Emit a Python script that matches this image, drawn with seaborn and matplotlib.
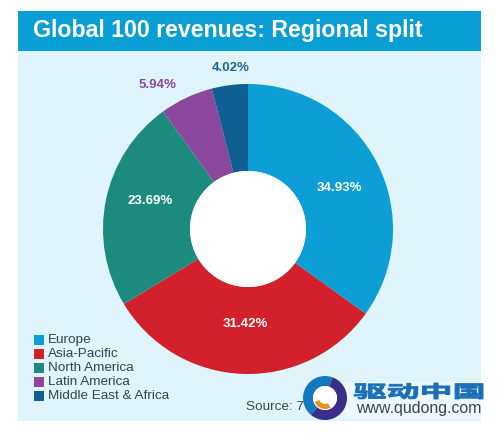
import matplotlib
matplotlib.use('Agg')
import matplotlib.pyplot as plt
import matplotlib.patches as mpatches
from matplotlib.font_manager import FontProperties
from matplotlib.textpath import TextPath
from matplotlib.transforms import Affine2D
import seaborn as sns

sns.set_theme(style='white')
plt.rcParams['font.family'] = ['Liberation Sans', 'Noto Sans CJK SC', 'DejaVu Sans']

regions = ['Europe', 'Asia-Pacific', 'North America', 'Latin America', 'Middle East & Africa']
shares = [34.93, 31.42, 23.69, 5.94, 4.02]
share_labels = ['34.93%', '31.42%', '23.69%', '5.94%', '4.02%']
colors = sns.color_palette(['#0d9ed6', '#d2212b', '#1d8a7e', '#8a479b', '#0f5f92'])
label_colors = ['white', 'white', 'white', '#8a479b', '#1f6690']

W, H = 500, 433
fig = plt.figure(figsize=(W / 100, H / 100), dpi=100, facecolor='white')
ax = fig.add_axes([0, 0, 1, 1])

# panel + header, pixel coords (y flipped)
ax.add_patch(mpatches.Rectangle((18, H - 421), 463, 370, fc='#e0f4fb', ec='none', zorder=0))
ax.add_patch(mpatches.Rectangle((18, H - 51), 463, 40, fc='#0a9fd4', ec='none', zorder=1))

cx, cy, R = 248, H - 229, 145
wedges, _ = ax.pie(shares, colors=colors, startangle=90, counterclock=False,
                   center=(cx, cy), radius=R,
                   wedgeprops=dict(width=R - 58, linewidth=0), frame=False)
ax.add_patch(mpatches.Circle((cx, cy), 58, fc='white', ec='none', zorder=3))

ax.set_xlim(0, W)
ax.set_ylim(0, H)
ax.set_aspect('equal')
ax.axis('off')

ax.text(33, H - 30, 'Global 100 revenues: Regional split', color='white', fontsize=16.65,
        fontweight='bold', va='center', ha='left', zorder=2)

label_pos = [(339, 188), (245, 324), (150, 201), (157, 85), (231, 68)]
for txt, col, (px, py) in zip(share_labels, label_colors, label_pos):
    ax.text(px, H - py, txt, color=col, fontsize=9.5, fontweight='bold',
            ha='center', va='center', zorder=4)

# legend
ly = [340, 354, 368, 382, 396]
for name, col, py in zip(regions, colors, ly):
    ax.add_patch(mpatches.Rectangle((34, H - py - 5), 10, 10, fc=col, ec='none', zorder=4))
    ax.text(48, H - py, name, color='#33424d', fontsize=9.7, va='center', ha='left', zorder=4)

ax.text(246, H - 407, 'Source: 7', color='#3a4650', fontsize=9.7, va='center', ha='left', zorder=4)

# watermark
ax.add_patch(mpatches.Rectangle((345, H - 419), 139, 37, fc='white', ec='none', alpha=0.45, zorder=5))
ax.add_patch(mpatches.Wedge((325, H - 398), 22, 70, 230, width=10, fc='#1279c0', ec='none', zorder=6))
ax.add_patch(mpatches.Wedge((325, H - 398), 22, 230, 70, width=10, fc='#3a2e86', ec='none', zorder=6))
ax.add_patch(mpatches.Circle((325, H - 398), 12, fc='white', ec='none', zorder=6))
ax.add_patch(mpatches.Wedge((325, H - 398), 11, 200, 300, width=5, fc='#e8901c', ec='none', zorder=7))

# chinese title of the watermark is stretched wide in the original
tp = TextPath((0, 0), '驱动中国', size=17, prop=FontProperties(family='Noto Sans CJK SC', weight='bold'))
box = tp.get_extents()
sx = 129 / box.width
sy = 16 / box.height
tr = Affine2D().translate(-box.x0, -box.y0).scale(sx, sy).translate(354, H - 399)
ax.add_patch(mpatches.PathPatch(tp, fc='#1b6fb8', ec='#1b6fb8', lw=0.7,
                                transform=tr + ax.transData, zorder=7))

ax.text(418.5, H - 409, 'www.qudong.com', color='#3a4650', fontsize=11.4,
        ha='center', va='center', zorder=7)

fig.savefig('out.png', dpi=100, facecolor='white')
